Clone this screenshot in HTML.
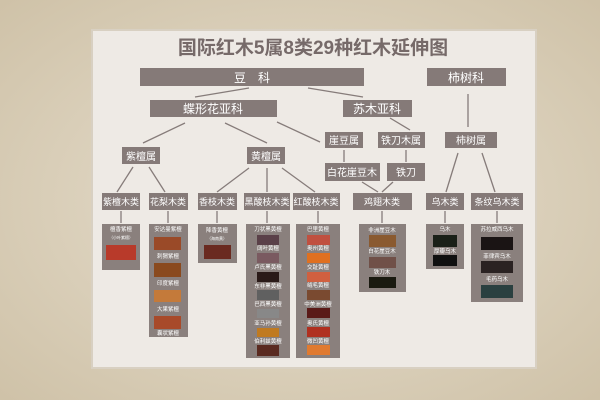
<!DOCTYPE html>
<html><head><meta charset="utf-8"><style>
html,body{margin:0;padding:0;width:600px;height:400px;overflow:hidden;background:#e0d6c4}
svg{display:block}
text{font-family:"Liberation Sans","Noto Sans CJK SC",sans-serif}
</style></head><body>
<svg width="600" height="400" viewBox="0 0 600 400" xmlns="http://www.w3.org/2000/svg">
<defs>
<radialGradient id="bg" cx="50%" cy="50%" r="70%"><stop offset="0" stop-color="#e8e0d0"/><stop offset="1" stop-color="#cfc2a8"/></radialGradient>
</defs>
<rect width="600" height="400" fill="url(#bg)"/>
<rect x="92" y="30" width="444" height="338" fill="#eeeae5" stroke="#d8d0c2" stroke-width="2"/>
<text x="313" y="54" text-anchor="middle" font-size="19" font-weight="bold" fill="#766a69" font-family="Liberation Serif,Noto Serif CJK SC,serif">国际红木5属8类29种红木延伸图</text>

<g stroke="#867c7a" stroke-width="1.3" fill="none">
<line x1="249" y1="88" x2="195" y2="97"/><line x1="308" y1="88" x2="363" y2="97"/>
<line x1="185" y1="123" x2="143" y2="143"/><line x1="225" y1="123" x2="267" y2="143"/><line x1="277" y1="122" x2="320" y2="142"/>
<line x1="390" y1="118" x2="410" y2="130"/>
<line x1="468" y1="94" x2="468" y2="127"/>
<line x1="344" y1="150" x2="344" y2="162"/><line x1="406" y1="150" x2="406" y2="162"/>
<line x1="362" y1="182" x2="378" y2="192"/><line x1="393" y1="182" x2="382" y2="192"/>
<line x1="458" y1="153" x2="446" y2="192"/><line x1="482" y1="153" x2="495" y2="192"/>
<line x1="133" y1="167" x2="117" y2="192"/><line x1="149" y1="167" x2="165" y2="192"/>
<line x1="249" y1="168" x2="217" y2="192"/><line x1="267" y1="168" x2="267" y2="192"/><line x1="282" y1="168" x2="315" y2="192"/>
<line x1="121" y1="211" x2="121" y2="223"/><line x1="168" y1="211" x2="168" y2="223"/><line x1="217" y1="211" x2="217" y2="223"/><line x1="267" y1="211" x2="267" y2="223"/><line x1="318" y1="211" x2="318" y2="223"/><line x1="382" y1="211" x2="382" y2="223"/><line x1="445" y1="211" x2="445" y2="223"/><line x1="497" y1="211" x2="497" y2="223"/>
</g>

<g fill="#857a78">
<rect x="140" y="68" width="224" height="18"/><rect x="427" y="68" width="79" height="18"/>
<rect x="150" y="100" width="127" height="17"/><rect x="343" y="100" width="69" height="17"/>
<rect x="325" y="132" width="38" height="16"/><rect x="378" y="132" width="47" height="16"/><rect x="445" y="132" width="52" height="16"/>
<rect x="122" y="147" width="38" height="17"/><rect x="247" y="147" width="38" height="17"/>
<rect x="325" y="163" width="55" height="18"/><rect x="387" y="163" width="38" height="18"/>
<rect x="102" y="193" width="38" height="17"/><rect x="149" y="193" width="39" height="17"/><rect x="198" y="193" width="39" height="17"/><rect x="244" y="193" width="46" height="17"/><rect x="293" y="193" width="47" height="17"/><rect x="353" y="193" width="59" height="17"/><rect x="426" y="193" width="38" height="17"/><rect x="471" y="193" width="52" height="17"/>
</g>
<g fill="#8a807d">
<rect x="102" y="224" width="38" height="46"/><rect x="149" y="224" width="39" height="113"/><rect x="198" y="224" width="39" height="39"/><rect x="246" y="224" width="44" height="134"/><rect x="296" y="224" width="44" height="134"/><rect x="359" y="224" width="47" height="68"/><rect x="426" y="224" width="38" height="45"/><rect x="471" y="224" width="52" height="78"/>
</g>

<g fill="#fff" text-anchor="middle">
<text x="252" y="82" font-size="12">豆　科</text><text x="466" y="82" font-size="12">柿树科</text>
<text x="213" y="113" font-size="12">蝶形花亚科</text><text x="377" y="113" font-size="12">苏木亚科</text>
<text x="344" y="144" font-size="10">崖豆属</text><text x="401" y="144" font-size="10">铁刀木属</text><text x="471" y="144" font-size="10">柿树属</text>
<text x="141" y="160" font-size="10">紫檀属</text><text x="266" y="160" font-size="10">黄檀属</text>
<text x="352" y="176" font-size="10">白花崖豆木</text><text x="406" y="176" font-size="10">铁刀</text>
<g font-size="9"><text x="121" y="205">紫檀木类</text><text x="168" y="205">花梨木类</text><text x="217" y="205">香枝木类</text><text x="267" y="205">黑酸枝木类</text><text x="316" y="205">红酸枝木类</text><text x="382" y="205">鸡翅木类</text><text x="445" y="205">乌木类</text><text x="497" y="205">条纹乌木类</text></g>
<g font-size="5.5">
<text x="121" y="231">檀香紫檀</text><text x="121" y="239" font-size="4">（小叶紫檀）</text>
<text x="168" y="231">安达曼紫檀</text><text x="168" y="258">刺猬紫檀</text><text x="168" y="285">印度紫檀</text><text x="168" y="311">大果紫檀</text><text x="168" y="335">囊状紫檀</text>
<text x="217" y="232">降香黄檀</text><text x="217" y="240" font-size="4">（海南黄）</text>
<text x="268" y="231">刀状黑黄檀</text><text x="268" y="250">阔叶黄檀</text><text x="268" y="269">卢氏黑黄檀</text><text x="268" y="288">东非黑黄檀</text><text x="268" y="306">巴西黑黄檀</text><text x="268" y="325">亚马孙黄檀</text><text x="268" y="343">伯利兹黄檀</text>
<text x="318" y="231">巴里黄檀</text><text x="318" y="250">奥州黄檀</text><text x="318" y="269">交趾黄檀</text><text x="318" y="287">绒毛黄檀</text><text x="318" y="306">中美洲黄檀</text><text x="318" y="325">奥氏黄檀</text><text x="318" y="343">微凹黄檀</text>
<text x="382" y="232">非洲崖豆木</text><text x="382" y="253">白花崖豆木</text><text x="382" y="274">铁刀木</text>
<text x="445" y="231">乌木</text><text x="445" y="253">厚瓣乌木</text>
<text x="497" y="231">苏拉威西乌木</text><text x="497" y="258">菲律宾乌木</text><text x="497" y="281">毛药乌木</text>
</g></g>

<rect x="106" y="245" width="30" height="15" fill="#b83a2a"/>
<rect x="154" y="237" width="27" height="13" fill="#9a4a28"/><rect x="154" y="263" width="27" height="14" fill="#8a4a1e"/><rect x="154" y="290" width="27" height="12" fill="#c47a3a"/><rect x="154" y="316" width="27" height="13" fill="#a84a2a"/>
<rect x="204" y="245" width="27" height="14" fill="#6a2a20"/>
<rect x="257" y="235" width="22" height="10" fill="#5a4048"/><rect x="257" y="253" width="22" height="10" fill="#7a5a60"/><rect x="257" y="272" width="22" height="10" fill="#2a1a18"/><rect x="257" y="290" width="22" height="10" fill="#606060"/><rect x="257" y="309" width="22" height="9" fill="#888"/><rect x="257" y="328" width="22" height="9" fill="#c07a20"/><rect x="257" y="345" width="22" height="11" fill="#5a2a20"/>
<rect x="307" y="235" width="23" height="10" fill="#c05040"/><rect x="307" y="253" width="23" height="10" fill="#e07020"/><rect x="307" y="272" width="23" height="10" fill="#d06040"/><rect x="307" y="290" width="23" height="10" fill="#7a4a30"/><rect x="307" y="308" width="23" height="10" fill="#5a1a18"/><rect x="307" y="327" width="23" height="10" fill="#b03020"/><rect x="307" y="345" width="23" height="10" fill="#e07a30"/>
<rect x="369" y="235" width="27" height="12" fill="#8a5a30"/><rect x="369" y="257" width="27" height="11" fill="#705048"/><rect x="369" y="277" width="27" height="11" fill="#1a1a10"/>
<rect x="433" y="235" width="24" height="12" fill="#1a2018"/><rect x="433" y="255" width="24" height="11" fill="#101010"/>
<rect x="481" y="237" width="32" height="13" fill="#1a1414"/><rect x="481" y="261" width="32" height="12" fill="#2a2222"/><rect x="481" y="285" width="32" height="13" fill="#2a4040"/>
</svg>
</body></html>
